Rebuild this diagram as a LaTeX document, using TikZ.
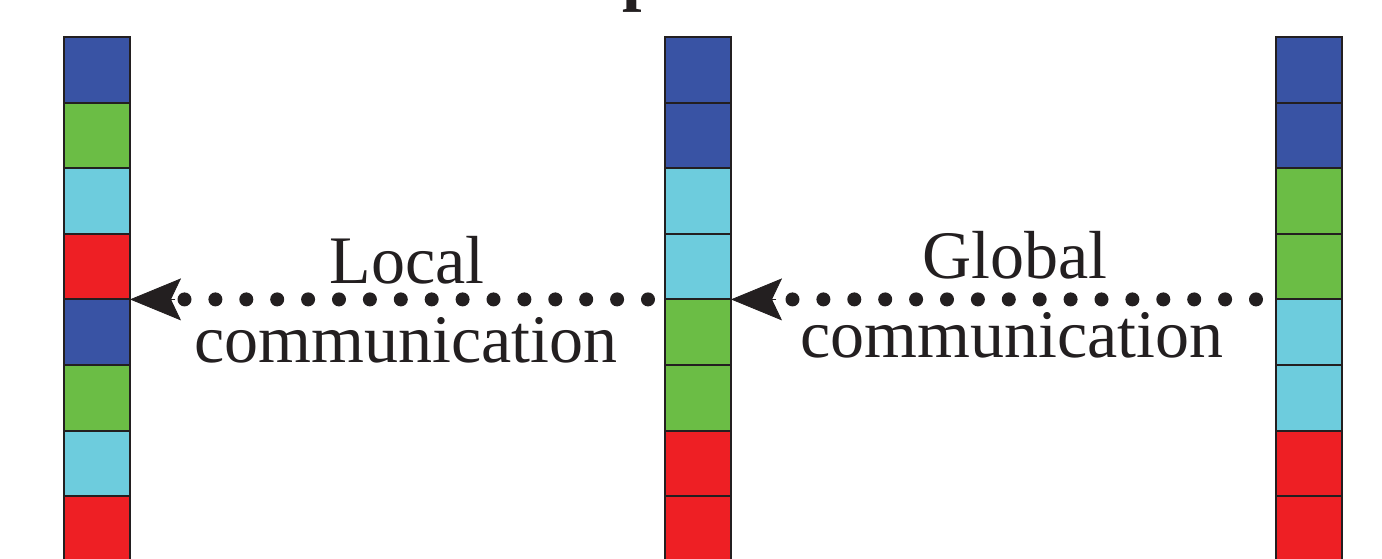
\documentclass[tikz,border=0pt]{standalone}
\usepackage{fontspec}
\setmainfont{Liberation Serif}
\usetikzlibrary{arrows.meta,calc}
\definecolor{cblue}{HTML}{3953A4}
\definecolor{cgreen}{HTML}{6BBD45}
\definecolor{ccyan}{HTML}{6DCCDD}
\definecolor{cred}{HTML}{EE1F24}
\definecolor{ink}{HTML}{231F20}
\tikzset{
  cell/.style={draw=ink, line width=2pt, minimum width=66pt, minimum height=65.6pt, inner sep=0pt, outer sep=0pt},
  dotline/.style={draw=ink, line width=14pt, line cap=round, dash pattern=on 0pt off 30.9pt},
  headtip/.style={draw=ink, fill=ink, line width=0.8pt, -{Stealth[length=51pt,width=42pt,inset=10pt]}},
  lbl/.style={font=\fontsize{68}{79}\selectfont, text=ink, inner sep=0pt, anchor=base}
}
\begin{document}
\begin{tikzpicture}[x=1pt,y=-1pt]
\useasboundingbox (0,0) rectangle (1382,558);
\clip (0,0) rectangle (1382,558);
\fill[white] (0,0) rectangle (1382,558);
% partial title glyph
\node[anchor=base west, inner sep=0pt, text=ink, font=\fontsize{70}{80}\selectfont\bfseries] (title) at (622,-3) {p};
% columns
\foreach \col/\x/\list in {L/97/{cblue,cgreen,ccyan,cred,cblue,cgreen,ccyan,cred},
                            M/698/{cblue,cblue,ccyan,ccyan,cgreen,cgreen,cred,cred},
                            R/1309/{cblue,cblue,cgreen,cgreen,ccyan,ccyan,cred,cred}}{
  \foreach \c [count=\i] in \list {
    \node[cell, fill=\c] (\col\i) at (\x, {37+65.6*(\i-0.5)}) {};
  }
}
% local communication
\draw[dotline, shorten <=17pt, shorten >=52pt] (M5.north west) -- (L5.north east);
\coordinate (lt) at ($(L5.north east)+(45,0)$);
\draw[headtip] (lt) -- (L5.north east);
\node[lbl] (loc1) at (407,283) {Local};
\node[lbl] (loc2) at (406,362) {communication};
% global communication
\draw[dotline, shorten <=20pt, shorten >=60pt] (R5.north west) -- (M5.north east);
\coordinate (gt) at ($(M5.north east)+(45,0)$);
\draw[headtip] (gt) -- (M5.north east);
\node[lbl] (glo1) at (1015,278) {Global};
\node[lbl] (glo2) at (1012,357) {communication};
\end{tikzpicture}
\end{document}
